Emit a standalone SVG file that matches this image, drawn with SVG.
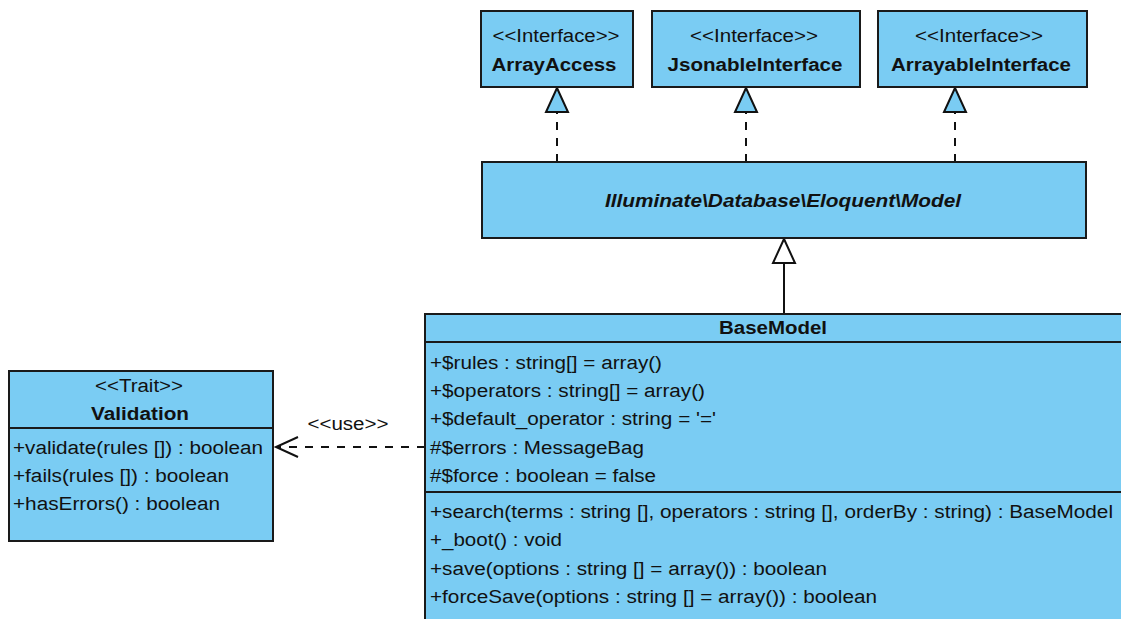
<svg xmlns="http://www.w3.org/2000/svg" width="1121" height="619" viewBox="0 0 1121 619">
<defs>
<style>
.box{fill:#7accf3;stroke:#1a1a1a;stroke-width:2}
.sep{stroke:#1a1a1a;stroke-width:2}
text{font-family:"Liberation Sans",Arial,sans-serif;font-size:18px;fill:#111}
.c{text-anchor:middle}
.b{font-weight:bold}
.i{font-style:italic;font-weight:bold}
.dash{fill:none;stroke:#111;stroke-width:2;stroke-dasharray:8,8}
.line{fill:none;stroke:#111;stroke-width:2}
</style>
</defs>
<rect width="1121" height="619" fill="#fff"/>
<g id="connectors">
<line class="dash" x1="557" y1="162" x2="557" y2="112"/>
<polygon points="557,88 546,112 568,112" fill="#7accf3" stroke="#111" stroke-width="2"/>
<line class="dash" x1="746" y1="162" x2="746" y2="112"/>
<polygon points="746,88 735,112 757,112" fill="#7accf3" stroke="#111" stroke-width="2"/>
<line class="dash" x1="955" y1="162" x2="955" y2="112"/>
<polygon points="955,88 944,112 966,112" fill="#7accf3" stroke="#111" stroke-width="2"/>
<line class="line" x1="784" y1="314" x2="784" y2="263"/>
<polygon points="784,239 773,263 795,263" fill="#fff" stroke="#111" stroke-width="2"/>
<line class="dash" x1="425" y1="447" x2="277" y2="447"/>
<polyline class="line" points="298,437 276,447 298,457"/>
<text class="c" x="348" y="430" textLength="81" lengthAdjust="spacingAndGlyphs">&lt;&lt;use&gt;&gt;</text>
</g>
<g id="ArrayAccess">
<rect class="box" x="481" y="11" width="152" height="76"/>
<text class="c" x="556" y="42" textLength="127" lengthAdjust="spacingAndGlyphs">&lt;&lt;Interface&gt;&gt;</text>
<text class="c b" x="554" y="71" textLength="125" lengthAdjust="spacingAndGlyphs">ArrayAccess</text>
</g>
<g id="JsonableInterface">
<rect class="box" x="652" y="11" width="208" height="76"/>
<text class="c" x="754" y="42" textLength="128" lengthAdjust="spacingAndGlyphs">&lt;&lt;Interface&gt;&gt;</text>
<text class="c b" x="755" y="71" textLength="175" lengthAdjust="spacingAndGlyphs">JsonableInterface</text>
</g>
<g id="ArrayableInterface">
<rect class="box" x="878" y="11" width="209" height="76"/>
<text class="c" x="979" y="42" textLength="128" lengthAdjust="spacingAndGlyphs">&lt;&lt;Interface&gt;&gt;</text>
<text class="c b" x="981" y="71" textLength="180" lengthAdjust="spacingAndGlyphs">ArrayableInterface</text>
</g>
<g id="Model">
<rect class="box" x="482" y="162" width="604" height="76"/>
<text class="c i" x="783" y="207" textLength="356" lengthAdjust="spacingAndGlyphs">Illuminate\Database\Eloquent\Model</text>
</g>
<g id="BaseModel">
<rect class="box" x="425" y="314" width="700" height="320"/>
<line class="sep" x1="425" y1="342" x2="1121" y2="342"/>
<line class="sep" x1="425" y1="492" x2="1121" y2="492"/>
<text class="c b" x="773" y="334" textLength="108" lengthAdjust="spacingAndGlyphs">BaseModel</text>
<text x="430" y="369" textLength="232" lengthAdjust="spacingAndGlyphs">+$rules : string[] = array()</text>
<text x="430" y="397" textLength="275" lengthAdjust="spacingAndGlyphs">+$operators : string[] = array()</text>
<text x="430" y="425" textLength="286" lengthAdjust="spacingAndGlyphs">+$default_operator : string = '='</text>
<text x="430" y="454" textLength="214" lengthAdjust="spacingAndGlyphs">#$errors : MessageBag</text>
<text x="430" y="482" textLength="226" lengthAdjust="spacingAndGlyphs">#$force : boolean = false</text>
<text x="430" y="518" textLength="683" lengthAdjust="spacingAndGlyphs">+search(terms : string [], operators : string [], orderBy : string) : BaseModel</text>
<text x="430" y="546" textLength="132" lengthAdjust="spacingAndGlyphs">+_boot() : void</text>
<text x="430" y="575" textLength="397" lengthAdjust="spacingAndGlyphs">+save(options : string [] = array()) : boolean</text>
<text x="430" y="603" textLength="447" lengthAdjust="spacingAndGlyphs">+forceSave(options : string [] = array()) : boolean</text>
</g>
<g id="Validation">
<rect class="box" x="9" y="371" width="264" height="170"/>
<line class="sep" x1="9" y1="428" x2="273" y2="428"/>
<text class="c" x="139" y="392" textLength="88" lengthAdjust="spacingAndGlyphs">&lt;&lt;Trait&gt;&gt;</text>
<text class="c b" x="140" y="420" textLength="98" lengthAdjust="spacingAndGlyphs">Validation</text>
<text x="13" y="454" textLength="250" lengthAdjust="spacingAndGlyphs">+validate(rules []) : boolean</text>
<text x="13" y="482" textLength="216" lengthAdjust="spacingAndGlyphs">+fails(rules []) : boolean</text>
<text x="13" y="510" textLength="207" lengthAdjust="spacingAndGlyphs">+hasErrors() : boolean</text>
</g>
</svg>
